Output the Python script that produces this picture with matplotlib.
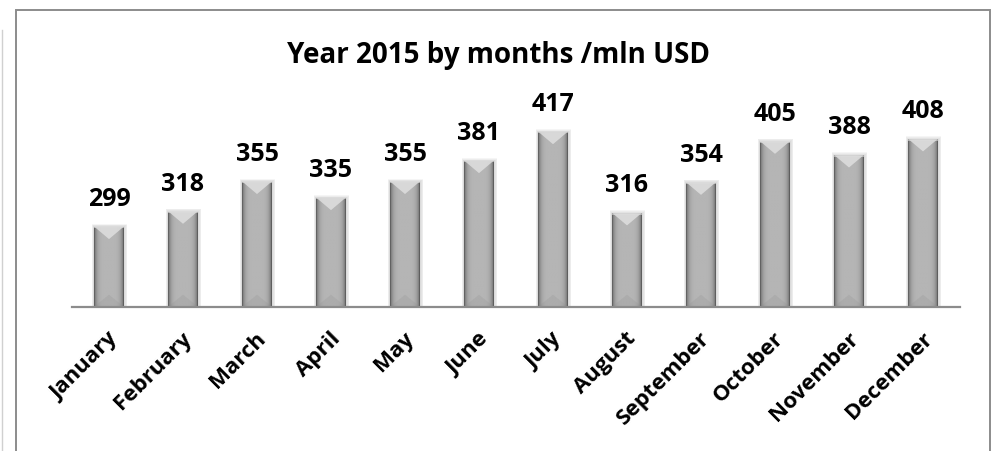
import numpy as np
import matplotlib
matplotlib.use("Agg")
import matplotlib.pyplot as plt
from matplotlib.patches import Polygon, Rectangle
from matplotlib.lines import Line2D
from matplotlib.transforms import ScaledTranslation

months = ["January", "February", "March", "April", "May", "June", "July",
          "August", "September", "October", "November", "December"]
values = [299, 318, 355, 335, 355, 381, 417, 316, 354, 405, 388, 408]
title = "Year 2015 by months /mln USD"

FONT = ["Open Sans", "DejaVu Sans"]
Y_MIN, Y_MAX = 200, 457

fig = plt.figure(figsize=(9.97, 4.51), dpi=100)
ax = fig.add_axes([72 / 997, 1 - 306.7 / 451, 888 / 997, 206.7 / 451])

x = np.arange(len(months))
bars = ax.bar(x, values, width=0.405, color="none", edgecolor="none", zorder=3)
ax.set_xlim(-0.5, len(months) - 0.5)
ax.set_ylim(Y_MIN, Y_MAX)

# horizontal shading profile for the "metal" look of each column
u = np.linspace(-1, 1, 80)
shade = 0.71 - 0.30 * np.abs(u) ** 5
shade[:2] -= 0.08
shade[-2:] -= 0.10
grad = np.tile(shade, (2, 1))

px = (Y_MAX - Y_MIN) / 206.7   # data units per pixel on y
for b in bars:
    x0, w = b.get_x(), b.get_width()
    top = b.get_height()
    xc = x0 + w / 2
    # soft shadow
    for k in range(1, 5):
        ax.add_patch(Rectangle((x0 - 0.008 * k, Y_MIN), w + 0.016 * k + 0.01,
                               top - Y_MIN + 0.8 * k * px, facecolor="#7a7a7a",
                               edgecolor="none", alpha=0.07, zorder=2))
    im = ax.imshow(grad, cmap="gray", vmin=0, vmax=1, aspect="auto",
                   extent=(x0, x0 + w, Y_MIN, top), zorder=3, interpolation="bilinear")
    im.set_clip_path(b)
    d = 12 * px
    # top bevel highlight
    ax.add_patch(Polygon([(x0 + 0.01, top), (x0 + w - 0.01, top), (xc, top - d)], closed=True,
                         facecolor="#e2e2e2", edgecolor="none", alpha=0.8, zorder=4))
    ax.add_patch(Rectangle((x0, top - 1.2 * px), w, 1.2 * px, facecolor="#dcdcdc",
                           edgecolor="none", alpha=0.6, zorder=4))
    # bottom bevel, faint
    ax.add_patch(Polygon([(x0, Y_MIN), (x0 + w, Y_MIN), (xc, Y_MIN + d)], closed=True,
                         facecolor="#8a8a8a", edgecolor="none", alpha=0.2, zorder=4))
    ax.annotate(f"{top:.0f}", (xc, top), xytext=(0, 11), textcoords="offset points",
                ha="center", va="bottom", fontsize=18, fontweight="bold",
                family=FONT, color="black")

for s in ["top", "right", "left"]:
    ax.spines[s].set_visible(False)
ax.spines["bottom"].set_color("#8c8c8c")
ax.spines["bottom"].set_linewidth(1.6)
ax.spines["bottom"].set_zorder(5)
ax.set_yticks([])
ax.set_xticks(x)
ax.set_xticklabels(months, rotation=45, ha="right", va="center",
                   rotation_mode="anchor", fontsize=16, fontweight="bold", family=FONT)
ax.tick_params(axis="x", length=0, pad=21)
shift = ScaledTranslation(6 / 100, 0, fig.dpi_scale_trans)
for lab in ax.get_xticklabels():
    lab.set_transform(lab.get_transform() + shift)

fig.text(0.5, 1 - 63 / 451, title, ha="center", va="baseline", fontsize=20,
         fontweight="bold", family=FONT, color="black")

# chart frame
fig.patches.append(Rectangle((16 / 997, -0.05), (990 - 16) / 997, 1.05 - 10 / 451,
                             transform=fig.transFigure, facecolor="none",
                             edgecolor="#8c8c8c", linewidth=1.4))
fig.lines.append(Line2D([2 / 997, 2 / 997], [0, 1 - 30 / 451], transform=fig.transFigure,
                        color="#d0d0d0", linewidth=1))

fig.savefig("out.png", dpi=100)
